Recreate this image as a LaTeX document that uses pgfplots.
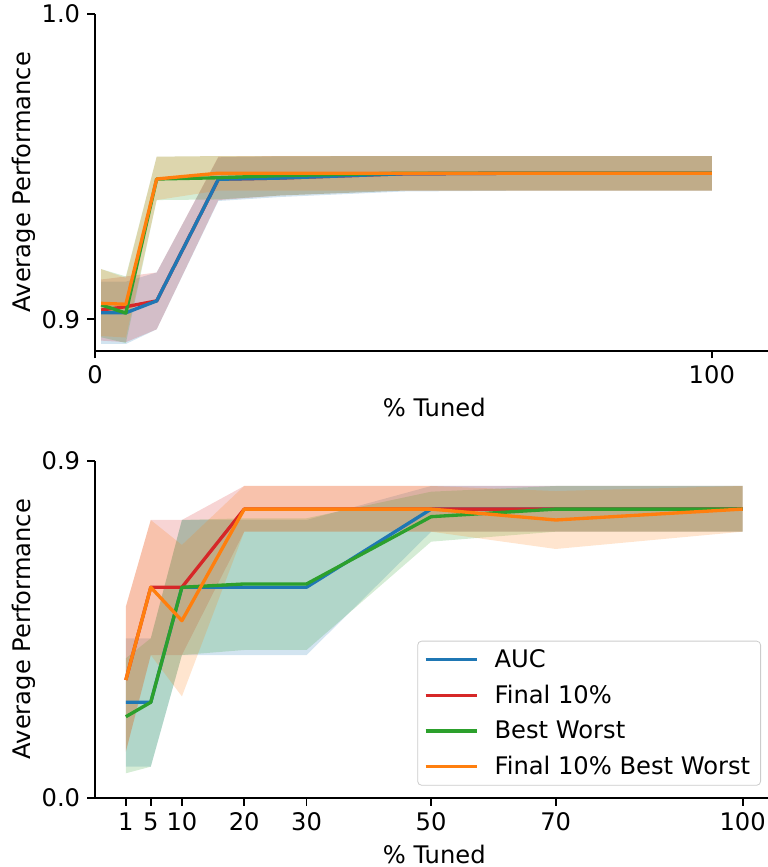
\documentclass[border=0pt]{standalone}
\usepackage{fontspec}
\setmainfont{DejaVu Sans}
\usepackage{pgfplots}
\usepackage{pgfplotstable}
\pgfplotsset{compat=1.18}
\usepgfplotslibrary{fillbetween}

\definecolor{tabblue}{HTML}{1F77B4}
\definecolor{taborange}{HTML}{FF7F0E}
\definecolor{tabgreen}{HTML}{2CA02C}
\definecolor{tabred}{HTML}{D62728}

% ---------- top panel ----------
\pgfplotstableread{
x mean lo hi
1 0.9021 0.8919 0.9123
5 0.9021 0.8919 0.9123
10 0.9060 0.8967 0.9153
20 0.9458 0.9387 0.9530
30 0.9462 0.9400 0.9533
50 0.9476 0.9418 0.9534
70 0.9478 0.9421 0.9534
100 0.9478 0.9421 0.9534
}\topBlue
\pgfplotstableread{
x mean lo hi
1 0.9030 0.8930 0.9130
5 0.9041 0.8925 0.9140
10 0.9060 0.8967 0.9153
20 0.9458 0.9390 0.9532
30 0.9462 0.9405 0.9534
50 0.9476 0.9421 0.9534
70 0.9478 0.9421 0.9534
100 0.9478 0.9421 0.9534
}\topRed
\pgfplotstableread{
x mean lo hi
1 0.9047 0.8941 0.9164
5 0.9020 0.8922 0.9140
10 0.9459 0.9390 0.9532
20 0.9463 0.9392 0.9534
30 0.9470 0.9405 0.9534
50 0.9478 0.9421 0.9534
70 0.9478 0.9421 0.9534
100 0.9478 0.9421 0.9534
}\topGreen
\pgfplotstableread{
x mean lo hi
1 0.9052 0.8945 0.9164
5 0.9049 0.8940 0.9135
10 0.9459 0.9390 0.9532
20 0.9478 0.9421 0.9534
30 0.9478 0.9421 0.9534
50 0.9478 0.9421 0.9534
70 0.9478 0.9421 0.9534
100 0.9478 0.9421 0.9534
}\topOrange

% ---------- bottom panel ----------
\pgfplotstableread{
x mean lo hi
1 0.2548 0.0828 0.4257
5 0.2548 0.0828 0.4257
10 0.5620 0.3811 0.7417
20 0.5620 0.3811 0.7417
30 0.5620 0.3811 0.7417
50 0.7708 0.7105 0.8325
70 0.7708 0.7105 0.8325
100 0.7708 0.7105 0.8325
}\botBlue
\pgfplotstableread{
x mean lo hi
1 0.3144 0.1229 0.5101
5 0.5620 0.3811 0.7417
10 0.5620 0.3811 0.7417
20 0.7708 0.7105 0.8325
30 0.7708 0.7105 0.8325
50 0.7708 0.7105 0.8325
70 0.7708 0.7105 0.8325
100 0.7708 0.7105 0.8325
}\botRed
\pgfplotstableread{
x mean lo hi
1 0.2163 0.0652 0.3723
5 0.2548 0.0828 0.4257
10 0.5620 0.3811 0.7417
20 0.5708 0.3945 0.7463
30 0.5708 0.3945 0.7463
50 0.7505 0.6838 0.8173
70 0.7708 0.7105 0.8325
100 0.7708 0.7105 0.8325
}\botGreen
\pgfplotstableread{
x mean lo hi
1 0.3144 0.1229 0.5101
5 0.5620 0.3811 0.7417
10 0.4728 0.2706 0.6750
20 0.7708 0.7105 0.8325
30 0.7708 0.7105 0.8325
50 0.7708 0.7105 0.8325
70 0.7417 0.6643 0.8190
100 0.7708 0.7105 0.8325
}\botOrange

\newcommand{\band}[2]{%
  \addplot[draw=none, forget plot, name path=u#2] table[x=x, y=hi]{#1};
  \addplot[draw=none, forget plot, name path=l#2] table[x=x, y=lo]{#1};
  \addplot[fill=#2, fill opacity=0.2, draw=none, forget plot] fill between[of=u#2 and l#2];
}

\newcommand{\lfont}{\fontsize{12.1}{14.5}\selectfont}

\pgfplotsset{
  panel/.style={
    width=339.25pt, height=168.5pt, scale only axis,
    axis lines=left,
    axis line style={-, line width=0.89pt, black},
    tick style={line width=0.89pt, black},
    tick align=outside,
    major tick length=3.9pt,
    tick label style={font=\lfont},
    label style={font=\lfont},
    /pgf/number format/assume math mode=true,
    xlabel={\% Tuned},
    ylabel={Average Performance},
    xlabel style={at={(axis description cs:0.5,0)}, anchor=center, yshift=-28.2pt},
    ylabel style={at={(axis description cs:-0.1055,0.5)}, anchor=center},
    yticklabel style={/pgf/number format/.cd, fixed, fixed zerofill, precision=1},
  },
  mline/.style={line width=1.67pt, line join=round},
}

\begin{document}
\begin{tikzpicture}
% top panel
\begin{axis}[panel, at={(0,223.5pt)},
  xmin=0, xmax=110, ymin=0.8897, ymax=1.0,
  xtick={0,100}, ytick={0.9,1.0}]
  \band{\topBlue}{tabblue}
  \band{\topRed}{tabred}
  \band{\topGreen}{tabgreen}
  \band{\topOrange}{taborange}
  \addplot[mline, tabred] table[x=x, y=mean]{\topRed};
  \addplot[mline, tabblue] table[x=x, y=mean]{\topBlue};
  \addplot[mline, tabgreen] table[x=x, y=mean]{\topGreen};
  \addplot[mline, taborange] table[x=x, y=mean]{\topOrange};
\end{axis}

% bottom panel
\begin{axis}[panel, at={(0,0)},
  xmin=-3.95, xmax=104.95, ymin=0, ymax=0.9,
  xtick={1,5,10,20,30,50,70,100}, ytick={0,0.9},
  legend cell align=left,
  legend style={at={(1,0)}, anchor=south east, xshift=-6.25pt, yshift=6pt,
    draw=black!20, rounded corners=2pt, fill=white, fill opacity=0.8,
    text opacity=1, draw opacity=1, inner xsep=3.2pt, inner ysep=2pt,
    row sep=3.3pt, column sep=6pt, font=\lfont},
  legend image code/.code={\draw[#1, line width=1.67pt] (0pt,0pt) -- (25.6pt,0pt);},
  ]
  \band{\botBlue}{tabblue}
  \band{\botRed}{tabred}
  \band{\botGreen}{tabgreen}
  \band{\botOrange}{taborange}
  \addplot[mline, tabblue] table[x=x, y=mean]{\botBlue};
  \addlegendentry{AUC}
  \addplot[mline, tabred] table[x=x, y=mean]{\botRed};
  \addlegendentry{Final 10\%}
  \addplot[mline, tabgreen] table[x=x, y=mean]{\botGreen};
  \addlegendentry{Best Worst}
  \addplot[mline, taborange] table[x=x, y=mean]{\botOrange};
  \addlegendentry{Final 10\% Best Worst}
\end{axis}
\pgfresetboundingbox
\path[use as bounding box] (-47.5pt,-34.65pt) rectangle (336pt,398.85pt);
\end{tikzpicture}
\end{document}
